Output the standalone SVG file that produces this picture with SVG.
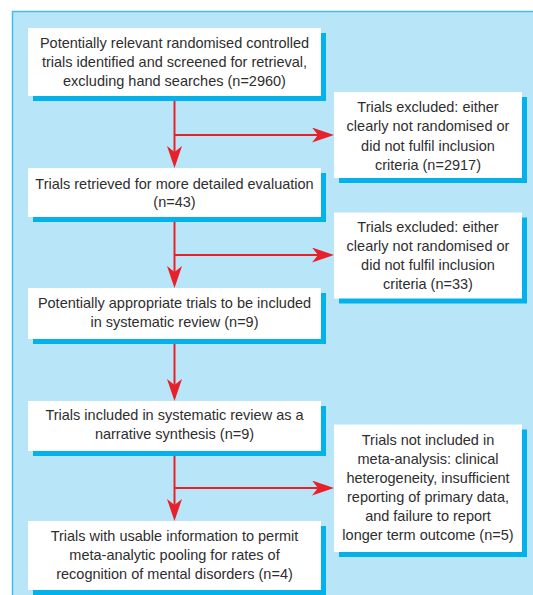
<svg xmlns="http://www.w3.org/2000/svg" width="533" height="595" viewBox="0 0 533 595">
  <defs>
    <style>
      .panel { fill: #b9e5f8; stroke: #3dbfee; stroke-width: 1.5; }
      .shadow { fill: #03b2eb; }
      .box { fill: #ffffff; }
      .txt { font-family: "Liberation Sans", Arial, sans-serif; font-size: 14.5px; fill: #2e2e2e; text-anchor: middle; }
      .conn { stroke: #e8202a; stroke-width: 2; fill: none; }
    </style>
    <marker id="arrow" viewBox="-22 -7.5 22 15" refX="-16" refY="0" markerWidth="22" markerHeight="15" markerUnits="userSpaceOnUse" orient="auto">
      <path d="M0,0 L-22,-7.5 L-16,0 L-22,7.5 Z" fill="#e8202a"/>
    </marker>
  </defs>

  <rect class="panel" x="12.5" y="11.5" width="540" height="600"/>

  <g id="connectors">
    <path class="conn" d="M174.5,96 V152" marker-end="url(#arrow)"/>
    <path class="conn" d="M174.5,135 H318" marker-end="url(#arrow)"/>
    <path class="conn" d="M174.5,217 V272" marker-end="url(#arrow)"/>
    <path class="conn" d="M174.5,255 H318" marker-end="url(#arrow)"/>
    <path class="conn" d="M174.5,339 V385" marker-end="url(#arrow)"/>
    <path class="conn" d="M174.5,451 V505" marker-end="url(#arrow)"/>
    <path class="conn" d="M174.5,488 H318" marker-end="url(#arrow)"/>
  </g>

  <g id="n1">
    <rect class="shadow" x="33" y="33" width="293" height="68"/>
    <rect class="box" x="28" y="28" width="293" height="68"/>
    <text class="txt" x="174.5" y="47.5">Potentially relevant randomised controlled</text>
    <text class="txt" x="174.5" y="66.5">trials identified and screened for retrieval,</text>
    <text class="txt" x="174.5" y="85.5">excluding hand searches (n=2960)</text>
  </g>

  <g id="n2">
    <rect class="shadow" x="339" y="97" width="188" height="86"/>
    <rect class="box" x="334" y="92" width="188" height="86"/>
    <text class="txt" x="428" y="112">Trials excluded: either</text>
    <text class="txt" x="428" y="131">clearly not randomised or</text>
    <text class="txt" x="428" y="150.5">did not fulfil inclusion</text>
    <text class="txt" x="428" y="170">criteria (n=2917)</text>
  </g>

  <g id="n3">
    <rect class="shadow" x="33" y="173" width="293" height="49"/>
    <rect class="box" x="28" y="168" width="293" height="49"/>
    <text class="txt" x="174.5" y="188.5">Trials retrieved for more detailed evaluation</text>
    <text class="txt" x="174.5" y="207">(n=43)</text>
  </g>

  <g id="n4">
    <rect class="shadow" x="339" y="217.5" width="188" height="86"/>
    <rect class="box" x="334" y="212.5" width="188" height="86"/>
    <text class="txt" x="428" y="232">Trials excluded: either</text>
    <text class="txt" x="428" y="251">clearly not randomised or</text>
    <text class="txt" x="428" y="270">did not fulfil inclusion</text>
    <text class="txt" x="428" y="289">criteria (n=33)</text>
  </g>

  <g id="n5">
    <rect class="shadow" x="33" y="293" width="293" height="51"/>
    <rect class="box" x="28" y="288" width="293" height="51"/>
    <text class="txt" x="174.5" y="308">Potentially appropriate trials to be included</text>
    <text class="txt" x="174.5" y="327">in systematic review (n=9)</text>
  </g>

  <g id="n6">
    <rect class="shadow" x="33" y="406" width="293" height="50"/>
    <rect class="box" x="28" y="401" width="293" height="50"/>
    <text class="txt" x="174.5" y="420">Trials included in systematic review as a</text>
    <text class="txt" x="174.5" y="438.5">narrative synthesis (n=9)</text>
  </g>

  <g id="n7">
    <rect class="shadow" x="339" y="429.5" width="188" height="127.5"/>
    <rect class="box" x="334" y="424.5" width="188" height="127.5"/>
    <text class="txt" x="428" y="445">Trials not included in</text>
    <text class="txt" x="428" y="464">meta-analysis: clinical</text>
    <text class="txt" x="428" y="483">heterogeneity, insufficient</text>
    <text class="txt" x="428" y="502">reporting of primary data,</text>
    <text class="txt" x="428" y="521">and failure to report</text>
    <text class="txt" x="428" y="540">longer term outcome (n=5)</text>
  </g>

  <g id="n8">
    <rect class="shadow" x="33" y="526" width="293" height="69"/>
    <rect class="box" x="28" y="521" width="293" height="69"/>
    <text class="txt" x="174.5" y="541">Trials with usable information to permit</text>
    <text class="txt" x="174.5" y="560">meta-analytic pooling for rates of</text>
    <text class="txt" x="174.5" y="579">recognition of mental disorders (n=4)</text>
  </g>
</svg>
